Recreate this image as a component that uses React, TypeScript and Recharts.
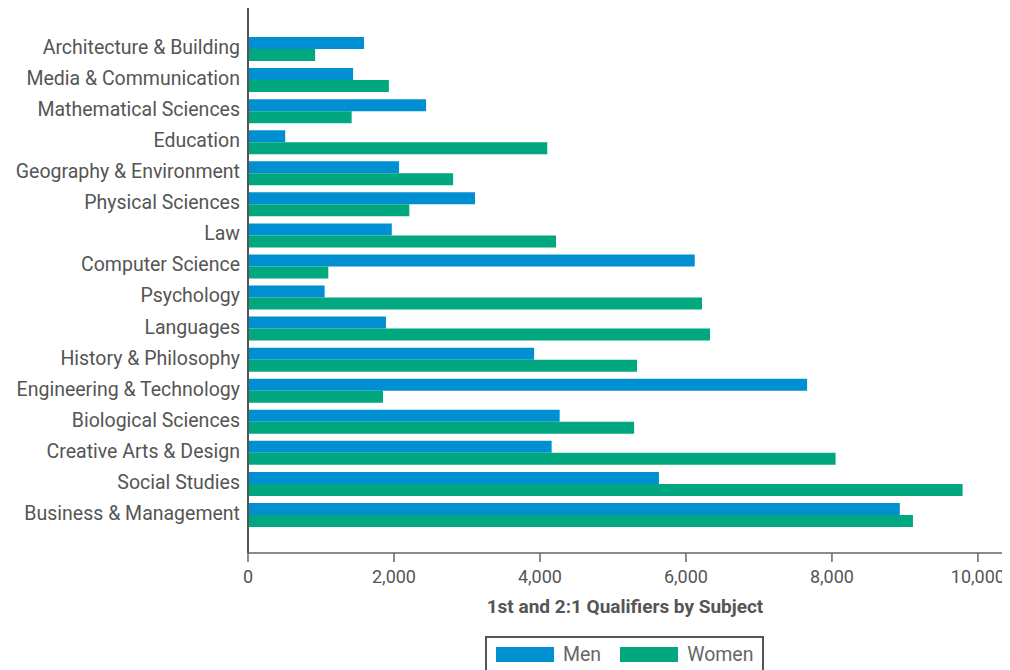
import { Bar, BarChart, Legend, XAxis, YAxis } from "recharts"

const subjects = [
  "Architecture & Building",
  "Media & Communication",
  "Mathematical Sciences",
  "Education",
  "Geography & Environment",
  "Physical Sciences",
  "Law",
  "Computer Science",
  "Psychology",
  "Languages",
  "History & Philosophy",
  "Engineering & Technology",
  "Biological Sciences",
  "Creative Arts & Design",
  "Social Studies",
  "Business & Management",
]

const men = [1590, 1440, 2440, 510, 2070, 3110, 1970, 6120, 1050, 1890, 3920, 7660, 4270, 4160, 5630, 8930]
const women = [920, 1930, 1420, 4100, 2810, 2210, 4220, 1100, 6220, 6330, 5330, 1850, 5290, 8050, 9790, 9110]

const xTicks = [0, 2000, 4000, 6000, 8000, 10000]

const BLUE = "#008fd0"
const GREEN = "#00a77f"
const FONT = "Roboto, sans-serif"

const data = subjects.map((subject, i) => ({ subject, men: men[i], women: women[i] }))

function LegendBox() {
  return (
    <div
      style={{
        border: "2px solid #555",
        borderBottom: "none",
        width: 279,
        height: 36,
        boxSizing: "border-box",
        display: "flex",
        alignItems: "center",
        paddingLeft: 9,
        paddingBottom: 1,
        fontFamily: FONT,
        fontSize: 19.5,
        color: "#666",
      }}
    >
      <span style={{ width: 58, height: 15, background: BLUE, display: "inline-block" }} />
      <span style={{ marginLeft: 9, marginRight: 19 }}>Men</span>
      <span style={{ width: 58, height: 15, background: GREEN, display: "inline-block" }} />
      <span style={{ marginLeft: 9 }}>Women</span>
    </div>
  )
}

export default function App() {
  return (
    <BarChart
      width={1000}
      height={662}
      data={data}
      layout="vertical"
      margin={{ top: 0, right: 6, left: 0, bottom: 19 }}
      barCategoryGap={4}
      barGap={0}
    >
      <XAxis
        type="number"
        domain={[0, 10330]}
        ticks={xTicks}
        allowDataOverflow
        tickFormatter={(v) => v.toLocaleString("en-US")}
        stroke="#666"
        strokeWidth={1.5}
        tickSize={9}
        tickMargin={8}
        height={62}
        tick={{ fill: "#555", fontSize: 18, fontFamily: FONT }}
        label={{
          value: "1st and 2:1 Qualifiers by Subject",
          position: "insideBottom",
          offset: 2,
          style: { fill: "#555", fontSize: 19, fontWeight: 700, fontFamily: FONT },
        }}
      />
      <YAxis
        type="category"
        dataKey="subject"
        width={240}
        padding={{ top: 25, bottom: 23 }}
        stroke="#555"
        strokeWidth={2}
        tickLine={false}
        tickSize={0}
        tickMargin={8}
        interval={0}
        tick={{ fill: "#555", fontSize: 19.5, fontFamily: FONT, dy: -1.5 }}
      />
      <Legend
        verticalAlign="bottom"
        content={() => <LegendBox />}
        wrapperStyle={{ position: "absolute", left: 477, top: 628, width: 279, height: 36 }}
      />
      <Bar dataKey="men" name="Men" fill={BLUE} isAnimationActive={false} />
      <Bar dataKey="women" name="Women" fill={GREEN} isAnimationActive={false} />
    </BarChart>
  )
}
